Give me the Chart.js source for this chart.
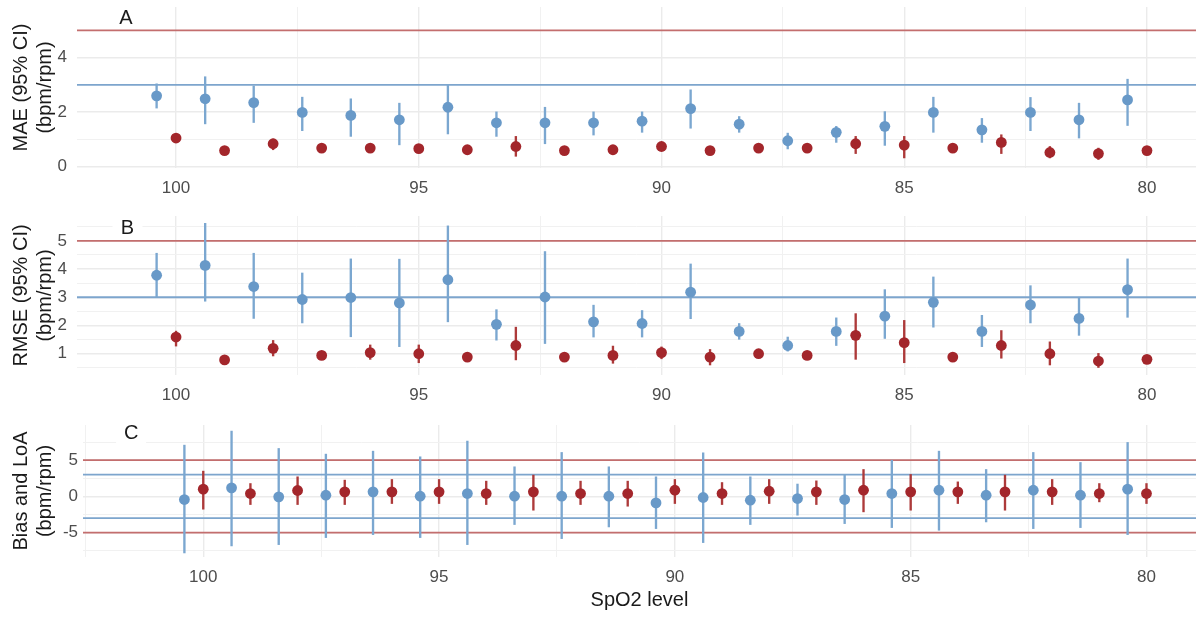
<!DOCTYPE html>
<html>
<head>
<meta charset="utf-8">
<script src="https://cdn.jsdelivr.net/npm/chart.js@4.4.1/dist/chart.umd.min.js"></script>
<style>
  body { margin: 0; background: #fff; }
  #wrap { position: relative; width: 1196px; height: 617px; }
  canvas { position: absolute; left: 0; }
</style>
</head>
<body>
<div id="wrap">
  <canvas id="chartA" width="1196" height="200" style="top:0px"></canvas>
  <canvas id="chartB" width="1196" height="210" style="top:200px"></canvas>
  <canvas id="chartC" width="1196" height="207" style="top:410px"></canvas>
</div>
<script>
'use strict';

// SpO2 levels, red sits on the level, blue is dodged a bit to the left
let spo2Levels = [100, 99, 98, 97, 96, 95, 94, 93, 92, 91, 90, 89, 88, 87, 86, 85, 84, 83, 82, 81, 80];
let blueDodge = 0.4;

// panel A - MAE
let maeBlue = [2.60, 2.49, 2.35, 1.99, 1.88, 1.72, 2.18, 1.61, 1.61, 1.61, 1.67, 2.13, 1.56, 0.95, 1.26, 1.48, 1.99, 1.35, 1.99, 1.72, 2.45];
let maeBlueLow = [2.15, 1.57, 1.62, 1.32, 1.11, 0.80, 1.20, 1.11, 0.84, 1.16, 1.26, 1.41, 1.26, 0.65, 0.89, 0.78, 1.26, 0.89, 1.32, 1.05, 1.51];
let maeBlueHigh = [3.04, 3.30, 2.96, 2.55, 2.49, 2.33, 3.02, 2.01, 2.18, 2.01, 2.01, 2.82, 1.84, 1.23, 1.48, 2.02, 2.55, 1.77, 2.54, 2.33, 3.21];
let maeRed = [1.05, 0.59, 0.84, 0.68, 0.68, 0.66, 0.62, 0.74, 0.59, 0.62, 0.74, 0.59, 0.68, 0.68, 0.84, 0.79, 0.68, 0.89, 0.52, 0.48, 0.59];
let maeRedLow = [0.95, 0.50, 0.62, 0.58, 0.58, 0.55, 0.52, 0.38, 0.50, 0.52, 0.64, 0.49, 0.58, 0.58, 0.48, 0.32, 0.58, 0.48, 0.32, 0.26, 0.49];
let maeRedHigh = [1.15, 0.68, 1.01, 0.78, 0.78, 0.77, 0.72, 1.11, 0.68, 0.72, 0.84, 0.69, 0.78, 0.78, 1.11, 1.11, 0.78, 1.17, 0.74, 0.68, 0.69];

// panel B - RMSE
let rmseBlue = [3.78, 4.13, 3.38, 2.92, 2.99, 2.80, 3.62, 2.04, 3.01, 2.13, 2.07, 3.18, 1.79, 1.29, 1.79, 2.33, 2.82, 1.79, 2.73, 2.25, 3.27];
let rmseBlueLow = [3.00, 2.86, 2.25, 2.09, 1.60, 1.25, 2.13, 1.48, 1.36, 1.59, 1.59, 2.24, 1.51, 1.09, 1.29, 1.54, 1.94, 1.25, 2.09, 1.65, 2.29];
let rmseBlueHigh = [4.56, 5.62, 4.56, 3.86, 4.36, 4.35, 5.53, 2.56, 4.62, 2.72, 2.53, 4.18, 2.07, 1.59, 2.27, 3.27, 3.72, 2.36, 3.41, 3.00, 4.36];
let rmseRed = [1.59, 0.78, 1.19, 0.94, 1.04, 1.00, 0.88, 1.29, 0.88, 0.94, 1.04, 0.88, 1.00, 0.94, 1.65, 1.39, 0.88, 1.29, 1.00, 0.74, 0.80];
let rmseRedLow = [1.27, 0.68, 0.92, 0.84, 0.80, 0.68, 0.78, 0.78, 0.78, 0.66, 0.82, 0.60, 0.90, 0.84, 0.80, 0.68, 0.78, 0.84, 0.60, 0.51, 0.72];
let rmseRedHigh = [1.80, 0.88, 1.47, 1.04, 1.31, 1.31, 0.98, 1.94, 0.98, 1.27, 1.24, 1.15, 1.10, 1.04, 2.42, 2.18, 0.98, 1.82, 1.42, 1.01, 0.88];

// panel C - bias and limits of agreement
let biasBlue = [-0.44, 1.18, -0.07, 0.16, 0.62, 0.02, 0.39, 0.02, 0.02, 0.02, -0.90, -0.16, -0.53, -0.30, -0.44, 0.39, 0.85, 0.16, 0.85, 0.16, 0.99];
let biasBlueLow = [-7.81, -6.84, -6.66, -5.69, -5.28, -5.69, -6.66, -3.89, -5.83, -4.22, -4.45, -6.38, -3.89, -2.60, -3.76, -4.31, -4.68, -3.53, -4.45, -4.31, -5.28];
let biasBlueHigh = [7.07, 9.01, 6.61, 5.83, 6.24, 5.46, 7.63, 4.08, 6.06, 4.08, 2.70, 6.01, 2.70, 1.70, 3.02, 4.99, 6.24, 3.71, 6.06, 4.68, 7.44];
let biasRed = [0.99, 0.39, 0.81, 0.62, 0.62, 0.62, 0.39, 0.62, 0.39, 0.39, 0.85, 0.39, 0.71, 0.62, 0.85, 0.62, 0.62, 0.62, 0.62, 0.39, 0.39];
let biasRedLow = [-1.77, -1.13, -1.13, -1.13, -0.99, -0.99, -1.13, -1.91, -1.13, -1.36, -0.99, -1.13, -0.99, -1.13, -2.14, -1.91, -0.99, -1.91, -1.13, -0.76, -0.99];
let biasRedHigh = [3.48, 1.77, 2.70, 2.24, 2.33, 2.33, 2.10, 2.93, 2.10, 2.10, 2.33, 1.91, 2.33, 2.14, 3.71, 3.02, 2.00, 2.93, 2.33, 1.77, 1.77];

// reference lines
let redRefAB = [5];
let blueRefAB = [3];
let redRefC = [5, -5];
let blueRefC = [3, -3];

// ticks (minor ones get no label)
let xTicks = [80, 82.5, 85, 87.5, 90, 92.5, 95, 97.5, 100, 102.5];
let yTicksA = [0, 1, 2, 3, 4, 5];
let yTicksB = [0.5, 1, 1.5, 2, 2.5, 3, 3.5, 4, 4.5, 5, 5.5];
let yTicksC = [-7.5, -5, -2.5, 0, 2.5, 5, 7.5];

let fontFamily = '"Liberation Sans", Arial, sans-serif';
let blueDot = '#6899c8';
let redDot = '#a3262b';
let blueBar = '#7ba7d0';
let redBar = '#ad3a3a';
let blueLine = '#7da5cd';
let redLine = '#c36e6e';

// draws the A / B / C tag on a white patch
const panelTag = {
    id: 'panelTag',
    beforeDatasetsDraw(chart, args, opts) {
        let x = chart.scales.x.getPixelForValue(opts.x);
        let y = chart.scales.y.getPixelForValue(opts.y);
        let ctx = chart.ctx;
        ctx.save();
        ctx.fillStyle = '#fff';
        ctx.fillRect(x - 15, y - 11, 30, 22);
        ctx.fillStyle = '#1a1a1a';
        ctx.font = '20px ' + fontFamily;
        ctx.textAlign = 'center';
        ctx.textBaseline = 'middle';
        ctx.fillText(opts.text, x, y);
        ctx.restore();
    }
};

function points(levels, values, dodge) {
    let out = [];
    for (let i = 0; i < levels.length; i++) {
        out.push({x: levels[i] + dodge, y: values[i]});
    }
    return out;
}

function ranges(levels, low, high, dodge) {
    let out = [];
    for (let i = 0; i < levels.length; i++) {
        out.push({x: levels[i] + dodge, y: [low[i], high[i]]});
    }
    return out;
}

function refLine(value, p, color) {
    return {
        type: 'line',
        data: [{x: p.xMin, y: value}, {x: p.xMax, y: value}],
        borderColor: color,
        borderWidth: 1.8,
        pointRadius: 0,
        order: 3
    };
}

// tick value from a scriptable context, may be missing
function tickOf(ctx) {
    return ctx && ctx.tick ? ctx.tick.value : 0;
}

function makePanel(canvasId, p) {
    let datasets = [];
    for (let i = 0; i < p.redRef.length; i++) datasets.push(refLine(p.redRef[i], p, redLine));
    for (let i = 0; i < p.blueRef.length; i++) datasets.push(refLine(p.blueRef[i], p, blueLine));

    // error bars as thin floating bars
    datasets.push({type: 'bar', data: ranges(spo2Levels, p.blueLow, p.blueHigh, blueDodge), backgroundColor: blueBar, barThickness: 1.7, grouped: false, borderWidth: 0, order: 2});
    datasets.push({type: 'bar', data: ranges(spo2Levels, p.redLow, p.redHigh, 0), backgroundColor: redBar, barThickness: 1.7, grouped: false, borderWidth: 0, order: 2});

    datasets.push({type: 'scatter', data: points(spo2Levels, p.blue, blueDodge), backgroundColor: blueDot, pointRadius: 5.4, borderWidth: 0, order: 1});
    datasets.push({type: 'scatter', data: points(spo2Levels, p.red, 0), backgroundColor: redDot, pointRadius: 5.4, borderWidth: 0, order: 1});

    let xMajor = v => v % 5 === 0;

    new Chart(document.getElementById(canvasId), {
        type: 'scatter',
        data: {datasets: datasets},
        plugins: [panelTag],
        options: {
            responsive: false,
            animation: false,
            layout: {padding: {top: p.top, left: 0, right: 0, bottom: 0}, autoPadding: false},
            plugins: {
                legend: {display: false},
                tooltip: {enabled: false},
                panelTag: {text: p.tag, x: p.tagPos[0], y: p.tagPos[1]}
            },
            scales: {
                x: {
                    type: 'linear',
                    reverse: true,
                    min: p.xMin,
                    max: p.xMax,
                    offset: false,
                    afterBuildTicks: s => {
                        s.ticks = xTicks.filter(v => v >= p.xMin && v <= p.xMax).map(v => ({value: v}));
                    },
                    afterFit: s => {
                        s.height = p.xHeight;
                        s.paddingLeft = 0; s.paddingRight = 0; s.paddingTop = 0; s.paddingBottom = 0;
                    },
                    border: {display: false},
                    grid: {
                        offset: false,
                        drawTicks: false,
                        color: ctx => xMajor(tickOf(ctx)) ? '#ebebeb' : '#f1f1f1',
                        lineWidth: ctx => xMajor(tickOf(ctx)) ? 1.4 : 1
                    },
                    ticks: {
                        padding: 10,
                        autoSkip: false,
                        maxRotation: 0,
                        color: '#4d4d4d',
                        font: {family: fontFamily, size: 17},
                        callback: v => xMajor(v) ? String(v) : ''
                    },
                    title: {
                        display: p.xTitle !== '',
                        text: p.xTitle,
                        color: '#1a1a1a',
                        font: {family: fontFamily, size: 20, lineHeight: 1.2},
                        padding: {top: 0, bottom: 5}
                    }
                },
                y: {
                    type: 'linear',
                    min: p.yMin,
                    max: p.yMax,
                    afterBuildTicks: s => {
                        s.ticks = p.yTicks.map(v => ({value: v}));
                    },
                    afterFit: s => {
                        s.width = p.yWidth;
                        s.paddingLeft = 0; s.paddingRight = 0; s.paddingTop = 0; s.paddingBottom = 0;
                    },
                    border: {display: false},
                    grid: {
                        offset: false,
                        drawTicks: false,
                        color: ctx => p.yMajor(tickOf(ctx)) ? '#ebebeb' : '#f1f1f1',
                        lineWidth: ctx => p.yMajor(tickOf(ctx)) ? 1.4 : 1
                    },
                    ticks: {
                        padding: p.yPad,
                        autoSkip: false,
                        color: '#4d4d4d',
                        font: {family: fontFamily, size: 17},
                        callback: v => p.yMajor(v) ? String(v) : ''
                    },
                    title: {
                        display: true,
                        text: p.yTitle,
                        color: '#1a1a1a',
                        font: {family: fontFamily, size: 20, lineHeight: 1.2},
                        padding: {top: 9, bottom: 0}
                    }
                }
            }
        }
    });
}

// on page load: build the three stacked panels
makePanel('chartA', {
    tag: 'A', tagPos: [101.03, 5.44],
    blue: maeBlue, blueLow: maeBlueLow, blueHigh: maeBlueHigh,
    red: maeRed, redLow: maeRedLow, redHigh: maeRedHigh,
    redRef: redRefAB, blueRef: blueRefAB,
    xMin: 78.99, xMax: 102.04, yMin: -0.05, yMax: 5.86,
    yTicks: yTicksA, yMajor: v => v % 2 === 0,
    yTitle: ['MAE (95% CI)', '(bpm/rpm)'], xTitle: '',
    top: 7, xHeight: 32, yWidth: 77, yPad: 10
});

makePanel('chartB', {
    tag: 'B', tagPos: [101.0, 5.43],
    blue: rmseBlue, blueLow: rmseBlueLow, blueHigh: rmseBlueHigh,
    red: rmseRed, redLow: rmseRedLow, redHigh: rmseRedHigh,
    redRef: redRefAB, blueRef: blueRefAB,
    xMin: 78.99, xMax: 102.04, yMin: 0.245, yMax: 5.88,
    yTicks: yTicksB, yMajor: v => Number.isInteger(v),
    yTitle: ['RMSE (95% CI)', '(bpm/rpm)'], xTitle: '',
    top: 16, xHeight: 35, yWidth: 77, yPad: 10
});

makePanel('chartC', {
    tag: 'C', tagPos: [101.53, 8.74],
    blue: biasBlue, blueLow: biasBlueLow, blueHigh: biasBlueHigh,
    red: biasRed, redLow: biasRedLow, redHigh: biasRedHigh,
    redRef: redRefC, blueRef: blueRefC,
    xMin: 78.95, xMax: 102.55, yMin: -8.37, yMax: 9.85,
    yTicks: yTicksC, yMajor: v => v % 5 === 0,
    yTitle: ['Bias and LoA', '(bpm/rpm)'], xTitle: 'SpO2 level',
    top: 15, xHeight: 60, yWidth: 83, yPad: 5
});
</script>
</body>
</html>
